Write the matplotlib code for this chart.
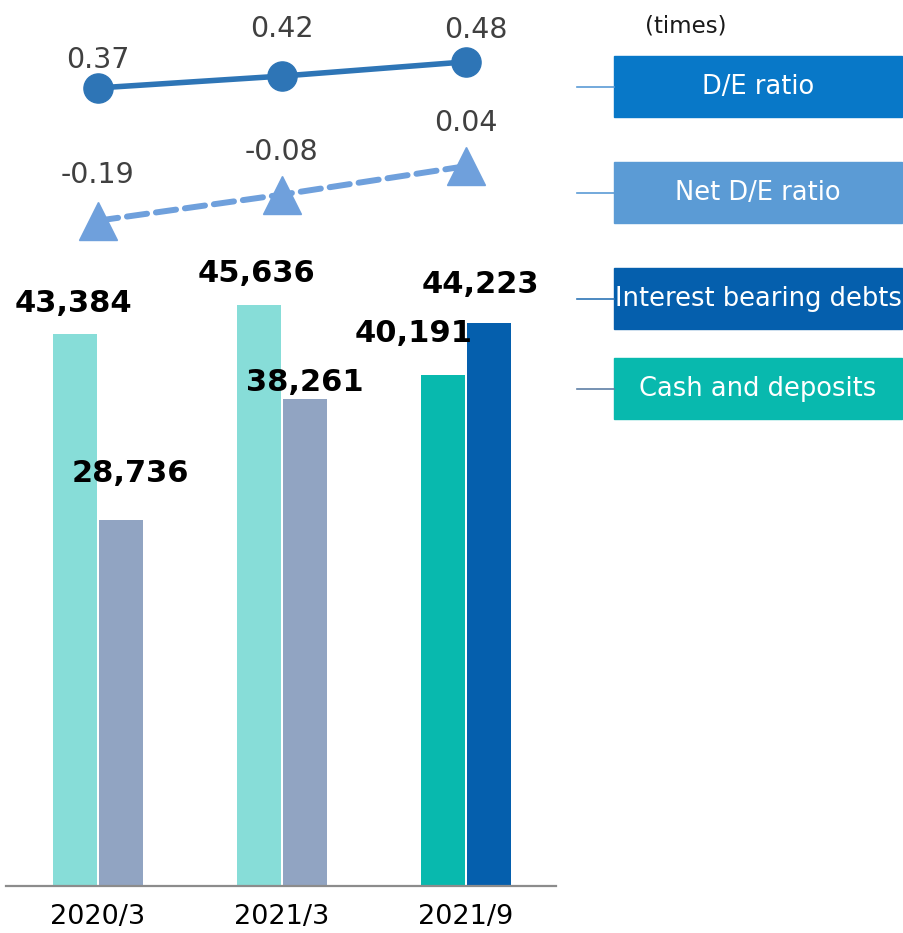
import matplotlib.pyplot as plt
from matplotlib.patches import Rectangle
from matplotlib.lines import Line2D
import numpy as np

# data
periods = ['2020/3', '2021/3', '2021/9']
cash = [43384, 45636, 40191]
debts = [28736, 38261, 44223]
de_ratio = [0.37, 0.42, 0.48]
net_de_ratio = [-0.19, -0.08, 0.04]

cash_colors = ['#87DDD8', '#87DDD8', '#08B9AE']
debt_colors = ['#91A4C2', '#91A4C2', '#055FAD']

W, H = 904, 933
fig = plt.figure(figsize=(W / 100, H / 100), dpi=100)
plt.rcParams['font.family'] = ['DejaVu Sans']

# axes spans from the top of the figure down to the baseline
ax = fig.add_axes([6 / W, (H - 886) / H, 550 / W, 886 / H])
x = np.arange(len(periods))
bw = 0.239
off = 0.125
ax.bar(x - off, cash, bw, color=cash_colors, zorder=2)
ax.bar(x + off, debts, bw, color=debt_colors, zorder=2)
ax.set_xlim(-0.5, 2.49)
ax.set_ylim(0, 69650)
for s in ['top', 'right', 'left']:
    ax.spines[s].set_visible(False)
ax.spines['bottom'].set_color('#8C8C8C')
ax.spines['bottom'].set_linewidth(1.6)
ax.set_yticks([])
ax.set_xticks(x)
ax.set_xticklabels(periods, fontsize=19.5, color='#000000')
ax.tick_params(axis='x', length=0, pad=13)

# bar value labels (offsets in points)
cash_off = [(-1, 22), (-2, 23), (-21, 30)]
debt_off = [(7, 34), (0, 12), (-6, 28)]
for i in range(3):
    ax.annotate(f'{cash[i]:,}', (x[i] - off, cash[i]), xytext=cash_off[i],
                textcoords='offset points', ha='center', va='center',
                fontsize=22, fontweight='bold', color='#000000', zorder=5)
    ax.annotate(f'{debts[i]:,}', (x[i] + off, debts[i]), xytext=debt_off[i],
                textcoords='offset points', ha='center', va='center',
                fontsize=22, fontweight='bold', color='#000000', zorder=5)

# ratio lines on a twin axis
ax2 = ax.twinx()
ax2.set_ylim(-2.997, 0.741)
ax2.axis('off')
ax2.plot(x, de_ratio, color='#2E75B6', lw=4, marker='o', ms=21,
         solid_capstyle='round', zorder=3)
ax2.plot(x, net_de_ratio, color='#6FA0DC', lw=4.3, marker='^', ms=27,
         dashes=(3.4, 1.5), dash_capstyle='round', zorder=3)

de_off = [(0, 20), (0, 34), (7, 23)]
net_off = [(0, 33), (0, 31), (0, 31)]
for i in range(3):
    ax2.annotate(f'{de_ratio[i]:.2f}', (x[i], de_ratio[i]), xytext=de_off[i],
                 textcoords='offset points', ha='center', va='center',
                 fontsize=20.5, color='#404040')
    ax2.annotate(f'{net_de_ratio[i]:.2f}', (x[i], net_de_ratio[i]), xytext=net_off[i],
                 textcoords='offset points', ha='center', va='center',
                 fontsize=20.5, color='#404040')

# legend boxes on the right
legend_items = ['D/E ratio', 'Net D/E ratio', 'Interest bearing debts', 'Cash and deposits']
legend_colors = ['#0878C8', '#5B9BD5', '#055FAD', '#08B9AE']
legend_lines = ['#5B9BD5', '#5B9BD5', '#2E75B6', '#5E7FA6']
box_top = [56, 162, 268, 358]
box_h = 61
for lab, c, lc, t in zip(legend_items, legend_colors, legend_lines, box_top):
    fig.patches.append(Rectangle((614 / W, (H - t - box_h) / H), 288 / W, box_h / H,
                                 transform=fig.transFigure, color=c, zorder=1))
    yc = (H - t - box_h / 2) / H
    fig.lines.append(Line2D([577 / W, 614 / W], [yc, yc], transform=fig.transFigure,
                            color=lc, lw=1.2))
    fig.text(758 / W, yc, lab, ha='center', va='center', fontsize=18.5,
             color='white', zorder=2)

fig.text(686 / W, (H - 26) / H, '(times)', ha='center', va='center',
         fontsize=16.5, color='#1A1A1A')

fig.savefig('out.png', dpi=100)
